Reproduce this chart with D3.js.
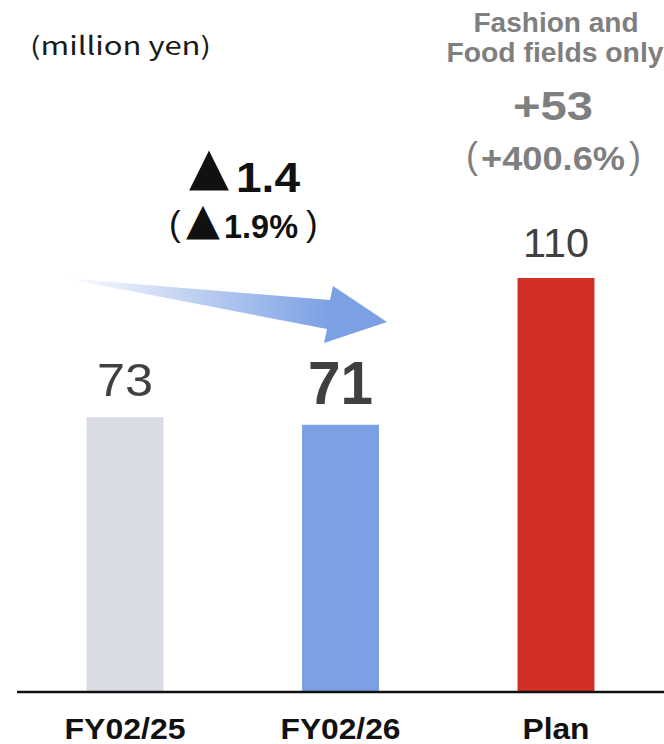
<!DOCTYPE html>
<html>
<head>
<meta charset="utf-8">
<script src="https://cdn.jsdelivr.net/npm/d3@7"></script>
<style>
  html, body { margin: 0; padding: 0; background: #fff; }
  svg { display: block; }
  .sans { font-family: "Liberation Sans", Arial, sans-serif; }
  .tri { font-family: "DejaVu Sans", sans-serif; font-weight: normal; }
</style>
</head>
<body>
<svg id="chart" width="664" height="744"></svg>
<script>
// Sales figures (million yen)
const categories = ["FY02/25", "FY02/26", "Plan"];
const values = [73, 71, 110];
const barColors = ["#d9dce4", "#7ba0e4", "#d22f27"];
const valueLabels = ["73", "71", "110"];

// Change annotations
const changeAbs = "1.4";
const changePct = "1.9%";
const planNote = ["Fashion and", "Food fields only"];
const planChange = ["+53", "+400.6%"];

const W = 664, H = 744;
const svg = d3.select("#chart");

const x = d3.scaleBand()
  .domain(categories)
  .range([17.25, 663.75])
  .paddingInner(0.643)
  .paddingOuter(0.3215);

const y = d3.scaleLinear()
  .domain([0, 110])
  .range([692, 278]);

// Bars
svg.selectAll("rect.bar")
  .data(values)
  .join("rect")
  .attr("class", "bar")
  .attr("x", (d, i) => x(categories[i]))
  .attr("width", x.bandwidth())
  .attr("y", d => y(d))
  .attr("height", d => y(0) - y(d))
  .attr("fill", (d, i) => barColors[i]);

// Baseline
svg.append("line")
  .attr("x1", 17).attr("x2", W)
  .attr("y1", y(0)).attr("y2", y(0))
  .attr("stroke", "#111").attr("stroke-width", 2.4);

// Category labels
const labelWidths = [121, 120, 67];
const xAxis = d3.axisBottom(x).tickSize(0).tickPadding(0);
const gx = svg.append("g").attr("transform", `translate(0,${y(0)})`).call(xAxis);
gx.select(".domain").remove();
gx.selectAll("text")
  .attr("class", "sans")
  .attr("y", 47)
  .attr("dy", 0)
  .style("font-size", "29px")
  .style("font-weight", "bold")
  .attr("fill", "#111")
  .attr("lengthAdjust", "spacingAndGlyphs")
  .attr("textLength", (d, i) => labelWidths[i]);

// Value labels
const labelStyle = [
  { size: 46, weight: "normal", len: 56 },
  { size: 61, weight: "bold", len: 65 },
  { size: 40, weight: "normal", len: 66 }
];
svg.selectAll("text.val")
  .data(values)
  .join("text")
  .attr("class", "val sans")
  .attr("x", (d, i) => x(categories[i]) + x.bandwidth() / 2)
  .attr("y", d => y(d) - 21)
  .attr("text-anchor", "middle")
  .style("font-size", (d, i) => labelStyle[i].size + "px")
  .style("font-weight", (d, i) => labelStyle[i].weight)
  .attr("lengthAdjust", "spacingAndGlyphs")
  .attr("textLength", (d, i) => labelStyle[i].len)
  .attr("fill", "#404040")
  .text((d, i) => valueLabels[i]);

// Unit
svg.append("text")
  .attr("x", 30).attr("y", 55)
  .style("font-family", "'Noto Sans CJK JP', 'Noto Sans', sans-serif")
  .style("font-size", "25px")
  .attr("fill", "#1a1a1a")
  .attr("lengthAdjust", "spacingAndGlyphs")
  .attr("textLength", 181)
  .text("(million yen)");

// Gradient arrow from FY02/25 towards FY02/26
const defs = svg.append("defs");
const grad = defs.append("linearGradient")
  .attr("id", "arrowGrad")
  .attr("gradientUnits", "userSpaceOnUse")
  .attr("x1", 63).attr("y1", 0).attr("x2", 330).attr("y2", 0);
grad.append("stop").attr("offset", 0).attr("stop-color", "#7ba0e4").attr("stop-opacity", 0);
grad.append("stop").attr("offset", 1).attr("stop-color", "#7ba0e4").attr("stop-opacity", 1);

const arrowPts = [
  [63, 278], [330, 300], [333, 286], [387, 322], [324, 343], [327, 329]
];
svg.append("path")
  .attr("d", d3.line()(arrowPts) + "Z")
  .attr("fill", "url(#arrowGrad)");

// Change annotation (FY02/26 vs FY02/25)
const cx1 = 244;
const g1 = svg.append("g").attr("fill", "#111");
g1.append("text").attr("class", "tri")
  .attr("x", cx1 - 55).attr("y", 184)
  .style("font-size", "52px")
  .text("▲");
g1.append("text").attr("class", "sans")
  .attr("x", cx1 - 8).attr("y", 192)
  .style("font-size", "43px").style("font-weight", "bold")
  .attr("lengthAdjust", "spacingAndGlyphs").attr("textLength", 64)
  .text(changeAbs);

g1.append("text").attr("class", "sans")
  .attr("x", cx1 - 75).attr("y", 236)
  .style("font-size", "35px")
  .text("(");
g1.append("text").attr("class", "tri")
  .attr("x", cx1 - 58).attr("y", 234)
  .style("font-size", "44px")
  .text("▲");
g1.append("text").attr("class", "sans")
  .attr("x", cx1 - 20).attr("y", 238)
  .style("font-size", "33px").style("font-weight", "bold")
  .attr("lengthAdjust", "spacingAndGlyphs").attr("textLength", 74)
  .text(changePct);
g1.append("text").attr("class", "sans")
  .attr("x", cx1 + 62).attr("y", 236)
  .style("font-size", "35px")
  .text(")");

// Plan annotation
const cx2 = 556;
const g2 = svg.append("g").attr("fill", "#7f7f7f");
g2.append("text").attr("class", "sans")
  .attr("x", cx2).attr("y", 32).attr("text-anchor", "middle")
  .style("font-size", "28px").style("font-weight", "bold")
  .attr("lengthAdjust", "spacingAndGlyphs").attr("textLength", 165)
  .text(planNote[0]);
g2.append("text").attr("class", "sans")
  .attr("x", cx2 - 1).attr("y", 62).attr("text-anchor", "middle")
  .style("font-size", "28px").style("font-weight", "bold")
  .attr("lengthAdjust", "spacingAndGlyphs").attr("textLength", 217)
  .text(planNote[1]);
g2.append("text").attr("class", "sans")
  .attr("x", cx2 - 3).attr("y", 120).attr("text-anchor", "middle")
  .style("font-size", "40px").style("font-weight", "bold")
  .attr("lengthAdjust", "spacingAndGlyphs").attr("textLength", 80)
  .text(planChange[0]);
g2.append("text").attr("class", "sans")
  .attr("x", 466).attr("y", 168)
  .style("font-size", "36px")
  .text("(");
g2.append("text").attr("class", "sans")
  .attr("x", 481).attr("y", 170)
  .style("font-size", "33px").style("font-weight", "bold")
  .attr("lengthAdjust", "spacingAndGlyphs").attr("textLength", 144)
  .text(planChange[1]);
g2.append("text").attr("class", "sans")
  .attr("x", 629).attr("y", 168)
  .style("font-size", "36px")
  .text(")");
</script>
</body>
</html>
